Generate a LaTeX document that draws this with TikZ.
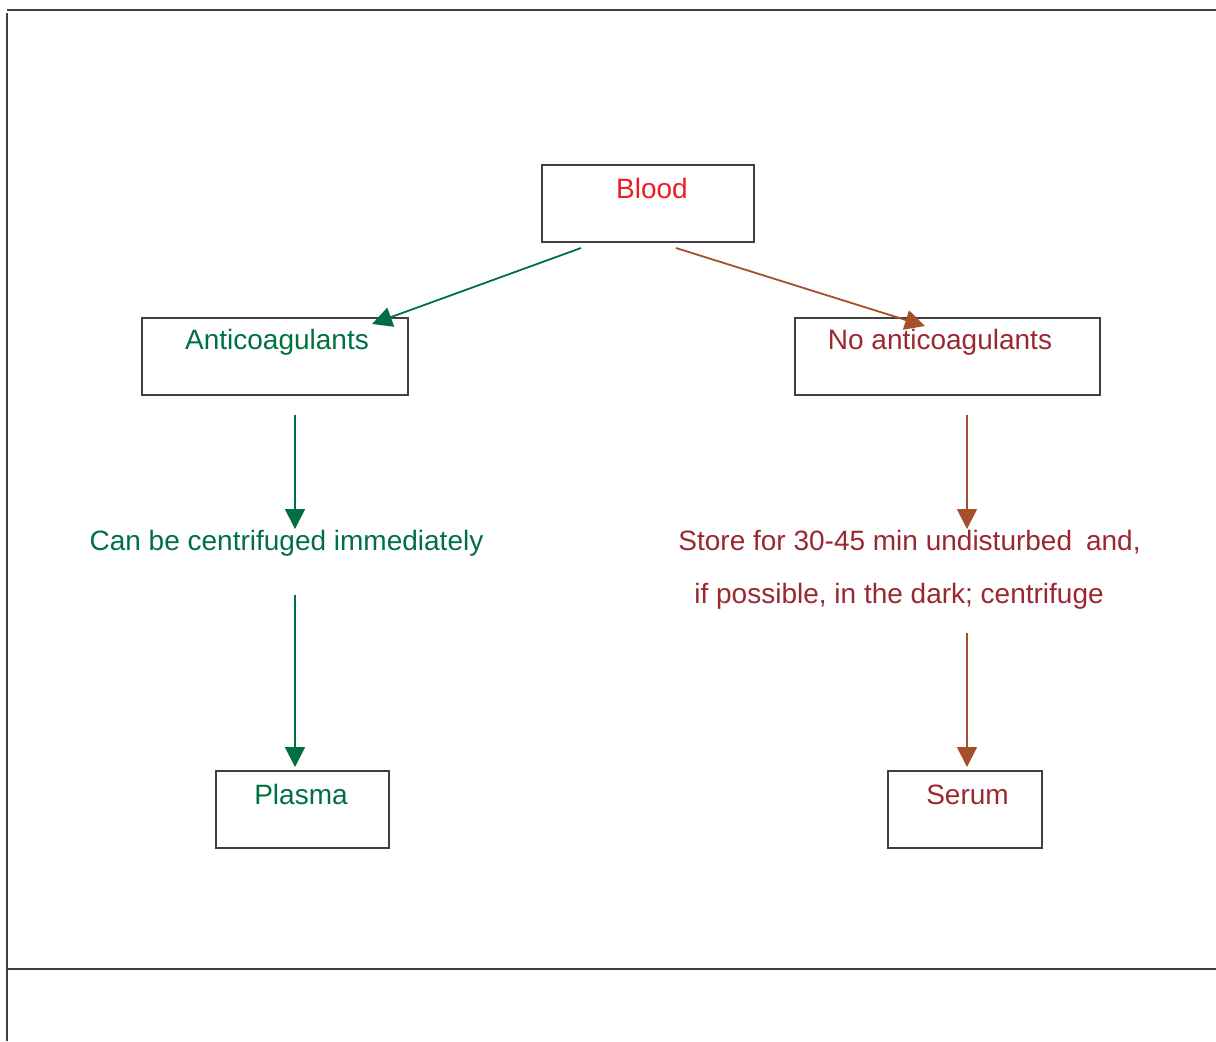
\documentclass[tikz,border=0pt]{standalone}
\usepackage{fontspec}
\setmainfont{Liberation Sans}
\usetikzlibrary{arrows.meta}
\definecolor{framegray}{RGB}{64,64,64}
\definecolor{antigreen}{RGB}{0,112,66}
\definecolor{noantired}{RGB}{155,40,48}
\definecolor{arrowbrown}{RGB}{165,80,45}
\definecolor{bloodred}{RGB}{237,28,36}
\begin{document}
\begin{tikzpicture}[x=0.5pt,y=-0.5pt,
  box/.style={draw=framegray,line width=1pt,inner sep=0pt,outer sep=0pt,anchor=north west},
  lbl/.style={inner sep=0pt,font=\fontsize{14}{17}\selectfont},
  garrow/.style={draw=antigreen,line width=0.9pt,-{Triangle[length=10pt,width=10pt]}},
  barrow/.style={draw=arrowbrown,line width=0.9pt,-{Triangle[length=10pt,width=10pt]}},
  frame/.style={draw=framegray,line width=1pt}]
\useasboundingbox (0,0) rectangle (1216,1041);
% frame lines
\coordinate (ftl) at (7,10);
\coordinate (ftr) at (1216,10);
\coordinate (fbl) at (7,969);
\coordinate (fbr) at (1216,969);
\coordinate (fl1) at (7,13);
\coordinate (fl2) at (7,1041);
\draw[frame] (ftl) -- (ftr);
\draw[frame] (fbl) -- (fbr);
\draw[frame] (fl1) -- (fl2);
% boxes
\node[box,minimum width=106pt,minimum height=38.5pt] (blood) at (542,165) {};
\node[box,minimum width=133pt,minimum height=38.5pt] (anti) at (142,318) {};
\node[box,minimum width=152.5pt,minimum height=38.5pt] (noanti) at (795,318) {};
\node[box,minimum width=86.5pt,minimum height=38.5pt] (plasma) at (216,771) {};
\node[box,minimum width=77pt,minimum height=38.5pt] (serum) at (888,771) {};
% labels
\node[lbl,anchor=base,text=bloodred] (bloodt) at (652,198) {Blood};
\node[lbl,anchor=base,text=antigreen] (antit) at (277,349) {Anticoagulants};
\node[lbl,anchor=base,text=noantired] (noantit) at (940,349) {No anticoagulants};
\node[lbl,anchor=base,text=antigreen] (cent) at (286.5,550) {Can be centrifuged immediately};
\node[lbl,anchor=base west,text=noantired] (store1) at (678,550) {Store for 30-45 min undisturbed\hspace{7pt}and,};
\node[lbl,anchor=base west,text=noantired] (store2) at (694,603) {if possible, in the dark; centrifuge};
\node[lbl,anchor=base,text=antigreen] (plasmat) at (301,804) {Plasma};
\node[lbl,anchor=base,text=noantired] (serumt) at (967.5,804) {Serum};
% connector end points
\coordinate (g1s) at (581,248);
\coordinate (g1e) at (372,324);
\coordinate (b1s) at (676,248);
\coordinate (b1e) at (925,326);
\coordinate (g2s) at (295,415);
\coordinate (g2e) at (295,529);
\coordinate (g3s) at (295,595);
\coordinate (g3e) at (295,767);
\coordinate (b2s) at (967,415);
\coordinate (b2e) at (967,529);
\coordinate (b3s) at (967,633);
\coordinate (b3e) at (967,767);
\draw[garrow] (g1s) -- (g1e);
\draw[barrow] (b1s) -- (b1e);
\draw[garrow] (g2s) -- (g2e);
\draw[garrow] (g3s) -- (g3e);
\draw[barrow] (b2s) -- (b2e);
\draw[barrow] (b3s) -- (b3e);
\end{tikzpicture}
\end{document}
